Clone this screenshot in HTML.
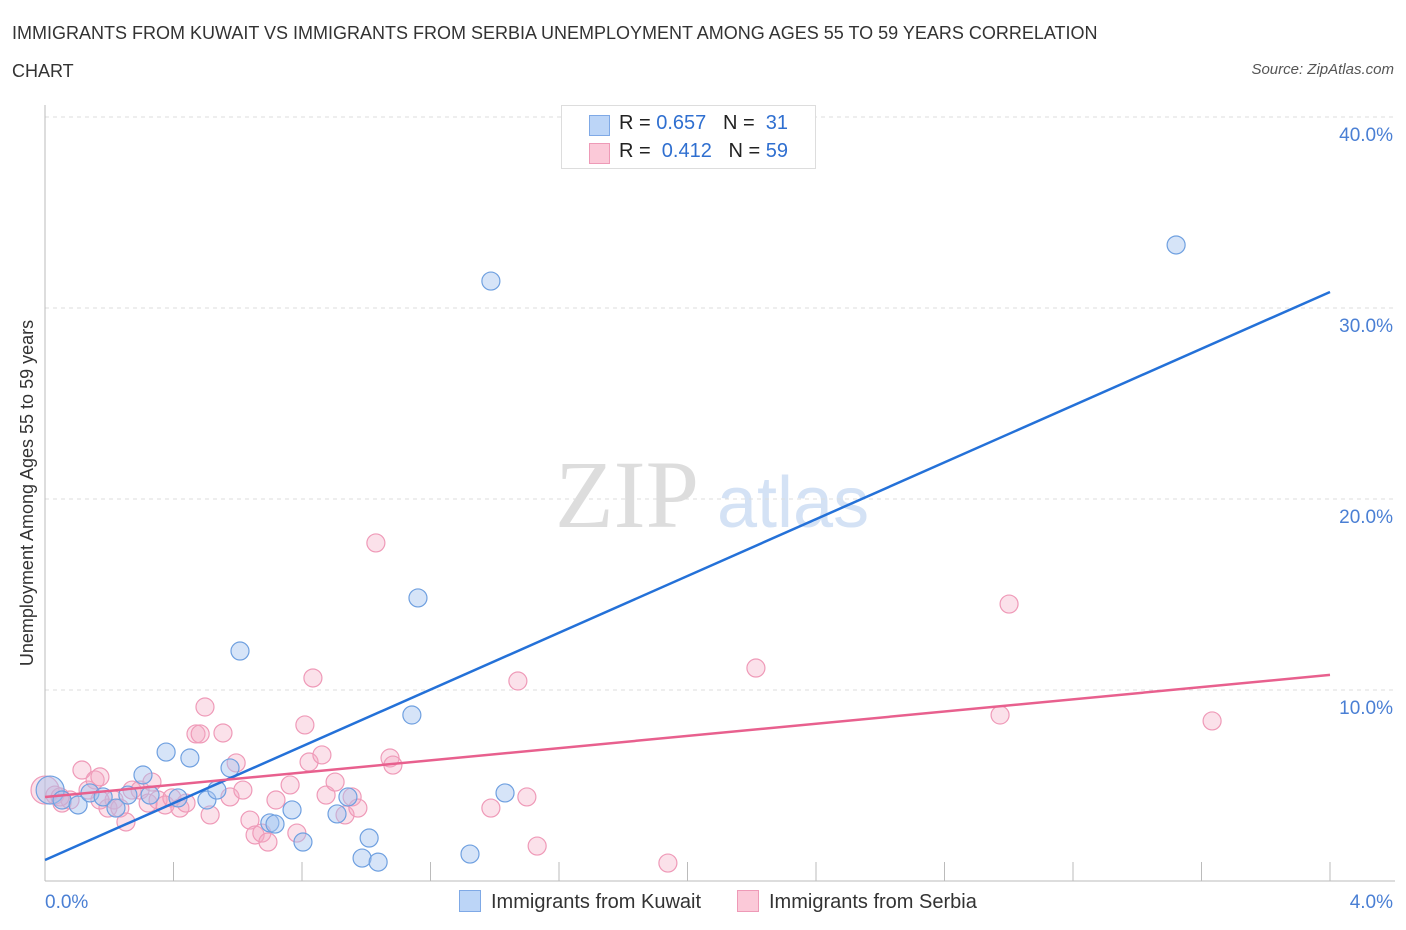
<!DOCTYPE html>
<html><head><meta charset="utf-8"><style>
body{margin:0;background:#fff;font-family:"Liberation Sans",sans-serif;}
#wrap{position:relative;width:1406px;height:930px;overflow:hidden;}
.t{position:absolute;white-space:nowrap;}
</style></head><body><div id="wrap">
<div class="t" style="left:12px;top:14px;font-size:18px;color:#333;line-height:38px;width:1150px;white-space:normal">IMMIGRANTS FROM KUWAIT VS IMMIGRANTS FROM SERBIA UNEMPLOYMENT AMONG AGES 55 TO 59 YEARS CORRELATION CHART</div>
<div class="t" style="right:12px;top:61px;font-size:15px;color:#555;font-style:italic">Source: ZipAtlas.com</div>
<svg id="svg" width="1406" height="930" style="position:absolute;left:0;top:0"></svg>
</div>
<script>
const xTicksPct=[0,4];
const yTicks=[10,20,30,40];
const kuwaitX=[0.016,0.053,0.103,0.140,0.181,0.221,0.258,0.305,0.327,0.377,0.414,0.451,0.504,0.535,0.576,0.607,0.700,0.716,0.769,0.803,0.909,0.943,0.987,1.009,1.037,1.142,1.161,1.323,1.388,1.432,3.521];
const kuwaitY=[4.76,4.24,3.98,4.61,4.40,3.82,4.50,5.55,4.50,6.75,4.35,6.44,4.24,4.76,5.92,12.04,3.04,2.98,3.72,2.04,3.51,4.40,1.20,2.25,0.99,8.69,14.82,1.41,31.41,4.61,33.30];
const serbiaX=[0,0.031,0.053,0.078,0.115,0.134,0.156,0.171,0.196,0.215,0.233,0.252,0.271,0.296,0.321,0.333,0.352,0.374,0.395,0.420,0.439,0.470,0.483,0.498,0.514,0.554,0.576,0.595,0.616,0.638,0.654,0.675,0.694,0.719,0.763,0.784,0.809,0.822,0.834,0.862,0.875,0.903,0.934,0.956,0.974,1.030,1.074,1.083,1.388,1.472,1.500,1.532,1.939,2.213,2.973,3.001,3.633,0.047,0.171];
const serbiaY=[4.76,4.50,4.08,4.24,5.81,4.76,5.29,5.45,3.82,4.24,3.82,3.09,4.76,4.76,4.08,5.18,4.24,3.98,4.35,3.82,4.08,7.70,7.70,9.11,3.46,7.75,4.40,6.18,4.76,3.19,2.41,2.51,2.04,4.24,5.03,2.51,8.17,6.23,10.63,6.60,4.50,5.18,3.46,4.40,3.82,17.70,6.44,6.07,3.82,10.47,4.40,1.83,0.94,11.15,8.69,14.50,8.38,4.40,4.24];
const kuwaitTrend=[1.10,30.84];
const serbiaTrend=[4.40,10.79];
const X0=45,X1=1330,Y0=881,PXPER=19.1;
const sx=v=>X0+(v/4)*(X1-X0);
const sy=v=>Y0-v*PXPER;
const svg=document.getElementById('svg');
const NS='http://www.w3.org/2000/svg';
function mk(tag,attrs,parent){const e=document.createElementNS(NS,tag);for(const k in attrs)e.setAttribute(k,attrs[k]);(parent||svg).appendChild(e);return e;}
let wm=mk('text',{x:555,y:527,'font-size':96,fill:'#ddd','font-family':'Liberation Serif, serif'});wm.textContent='ZIP';


let wm2=mk('text',{x:717,y:527,'font-size':72,fill:'#d4e2f5','font-family':'Liberation Sans, sans-serif'});wm2.textContent='atlas';


yTicks.forEach(t=>{const y=sy(t);
const g=mk('line',{x1:X0,x2:1395,y1:y,y2:y,stroke:'#ddd','stroke-dasharray':'4,4'});


const l=mk('text',{x:1393,y:y+24,'text-anchor':'end','font-size':19,fill:'#4a7fd4'});l.textContent=t.toFixed(1)+'%';

});
const ya=mk('line',{x1:X0,x2:X0,y1:105,y2:Y0,stroke:'#bbb'});


const xa=mk('line',{x1:X0,x2:1395,y1:Y0,y2:Y0,stroke:'#bbb'});


for(let i=0;i<=10;i++){const x=X0+i*(X1-X0)/10;
const tk=mk('line',{x1:x,x2:x,y1:862,y2:Y0,stroke:'#bbb'});

}
xTicksPct.forEach(t=>{const l=mk('text',{x:t===0?45:1393,y:908,'text-anchor':t===0?'start':'end','font-size':19,fill:'#4a7fd4'});l.textContent=t.toFixed(1)+'%';

});
const yt=mk('text',{x:0,y:0,'font-size':18,fill:'#333','text-anchor':'middle',transform:'translate(33,493) rotate(-90)'});yt.textContent='Unemployment Among Ages 55 to 59 years';


function pts(xs,ys,fill,stroke,name){xs.forEach((v,i)=>{const c=mk('circle',{cx:sx(v),cy:sy(ys[i]),r:i===0?14:9,fill:fill,stroke:stroke,'stroke-width':1.2});

});}
pts(serbiaX,serbiaY,'rgba(244,170,195,0.35)','#ef9ab8','serbia-point');
pts(kuwaitX,kuwaitY,'rgba(164,196,240,0.45)','#6fa0e0','kuwait-point');
const kl=mk('line',{x1:sx(0),y1:sy(kuwaitTrend[0]),x2:sx(4),y2:sy(kuwaitTrend[1]),stroke:'#2471d8','stroke-width':2.5});


const sl=mk('line',{x1:sx(0),y1:sy(serbiaTrend[0]),x2:sx(4),y2:sy(serbiaTrend[1]),stroke:'#e8608e','stroke-width':2.5});


</script>
<div class="t" style="left:561px;top:105px;width:253px;height:62px;border:1px solid #ddd;background:#fff;font-size:20px;color:#222">
<div style="position:absolute;left:27px;top:9px;width:19px;height:19px;background:#bcd5f7;border:1px solid #7fa9e6"></div>
<div style="position:absolute;left:57px;top:6px">R = <span style="color:#2f6fd0">0.657</span>&nbsp;&nbsp;&nbsp;N = &nbsp;<span style="color:#2f6fd0">31</span></div>
<div style="position:absolute;left:27px;top:37px;width:19px;height:19px;background:#fbc9d8;border:1px solid #ee9ab7"></div>
<div style="position:absolute;left:57px;top:34px">R = &nbsp;<span style="color:#2f6fd0">0.412</span>&nbsp;&nbsp;&nbsp;N = <span style="color:#2f6fd0">59</span></div>
</div>
<div class="t" style="left:459px;top:890px;font-size:20px;color:#333"><span style="display:inline-block;width:20px;height:20px;background:#bcd5f7;border:1px solid #7fa9e6;vertical-align:-4px;margin-right:10px"></span>Immigrants from Kuwait</div>
<div class="t" style="left:737px;top:890px;font-size:20px;color:#333"><span style="display:inline-block;width:20px;height:20px;background:#fbc9d8;border:1px solid #ee9ab7;vertical-align:-4px;margin-right:10px"></span>Immigrants from Serbia</div>
</body></html>
